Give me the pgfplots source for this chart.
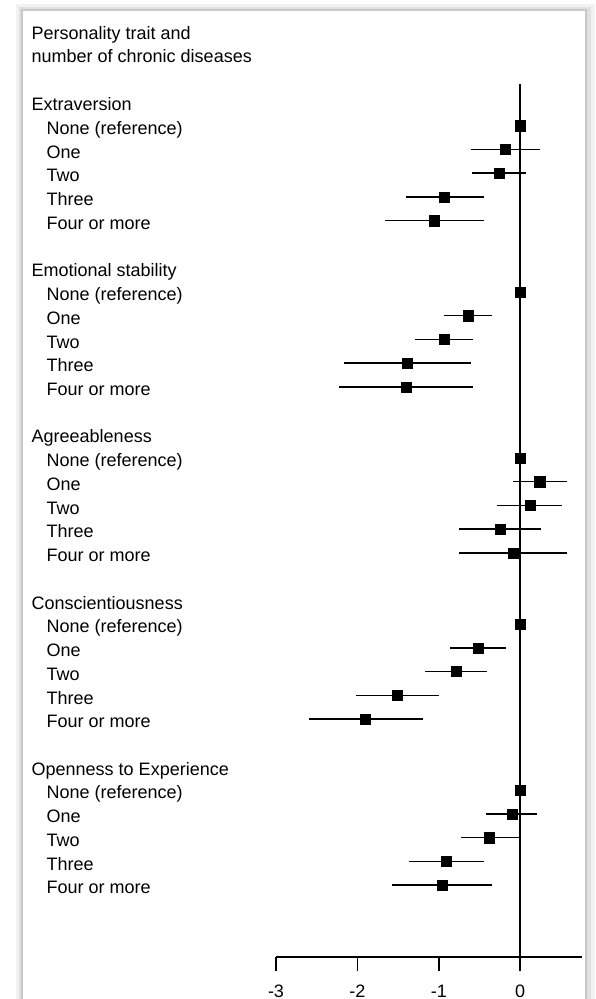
\documentclass[border=0pt]{standalone}
\usepackage{pgfplots}
\pgfplotsset{compat=1.18}
\usepackage{pgfplotstable}
\usepackage{fontspec}
\setmainfont{Liberation Sans}
\pgfplotstableread{
x y ep em
0 -125.7 0 0
-0.18 -149.4 0.42 0.43
-0.26 -173.2 0.33 0.33
-0.93 -196.9 0.48 0.47
-1.06 -220.7 0.61 0.60
0 -291.8 0 0
-0.64 -315.6 0.30 0.30
-0.93 -339.3 0.35 0.36
-1.39 -363.1 0.78 0.78
-1.40 -386.8 0.82 0.82
0 -457.9 0 0
0.24 -481.7 0.33 0.33
0.12 -505.4 0.40 0.40
-0.25 -529.2 0.50 0.50
-0.08 -552.9 0.66 0.67
0 -624.0 0 0
-0.52 -647.8 0.35 0.34
-0.79 -671.5 0.38 0.38
-1.51 -695.3 0.515 0.51
-1.90 -719.0 0.71 0.70
0 -790.1 0 0
-0.10 -813.9 0.31 0.32
-0.38 -837.6 0.36 0.35
-0.91 -861.4 0.46 0.45
-0.96 -885.1 0.62 0.61
}\est
\begin{document}
\begin{tikzpicture}[x=1pt,y=1pt]
\path[use as bounding box] (0,0) rectangle (595,-999);
% panel with shadow
\fill[black!5] (16,-4) rectangle (595,-1010);
\fill[black!12] (19,-7) rectangle (591,-1010);
\fill[black!22] (21,-9) rectangle (587,-1010);
\fill[white] (22.5,-10.5) rectangle (584.5,-1010);
\begin{axis}[
  at={(276pt,-957pt)}, anchor=south west,
  scale only axis, width=306pt, height=873pt,
  xmin=-3, xmax=0.76, ymin=-957, ymax=-84,
  axis x line=bottom, axis y line=none,
  x axis line style={-, line width=1.6pt, black},
  xtick={-3,-2,-1,0}, xticklabels={{-3},{-2},{-1},{0}},
  tick align=outside, major tick length=14pt,
  tick style={line width=1.6pt, black},
  xticklabel style={font=\fontsize{18}{20}\selectfont, anchor=base, inner sep=0pt, yshift=-26pt},
  clip=false,
]
\addplot[line width=1.6pt, black] coordinates {(0,-957) (0,-84)};
\addplot[only marks, mark=square*, mark size=5.1pt, black,
  error bars/.cd, x dir=both, x explicit,
  error bar style={line width=1.5pt, black}, error mark=none]
  table[x=x, y=y, x error plus=ep, x error minus=em]{\est};
\end{axis}
\begin{scope}[every node/.style={anchor=base west, inner sep=0pt, font=\fontsize{18}{20}\selectfont}]
\node at (31.5,-39) {Personality trait and};
\node at (31.5,-62.7) {number of chronic diseases};
\foreach \g/\name [count=\k from 0] in {0/Extraversion,1/Emotional stability,2/Agreeableness,3/Conscientiousness,4/Openness to Experience}{
  \pgfmathsetmacro{\yb}{-110.7-\k*166.1}
  \node at (31.5,\yb) {\name};
  \foreach \it [count=\i] in {None (reference),One,Two,Three,Four or more}{
    \pgfmathsetmacro{\yi}{\yb-\i*23.75}
    \node at (46.5,\yi) {\it};
  }
}
\end{scope}
\end{tikzpicture}
\end{document}
